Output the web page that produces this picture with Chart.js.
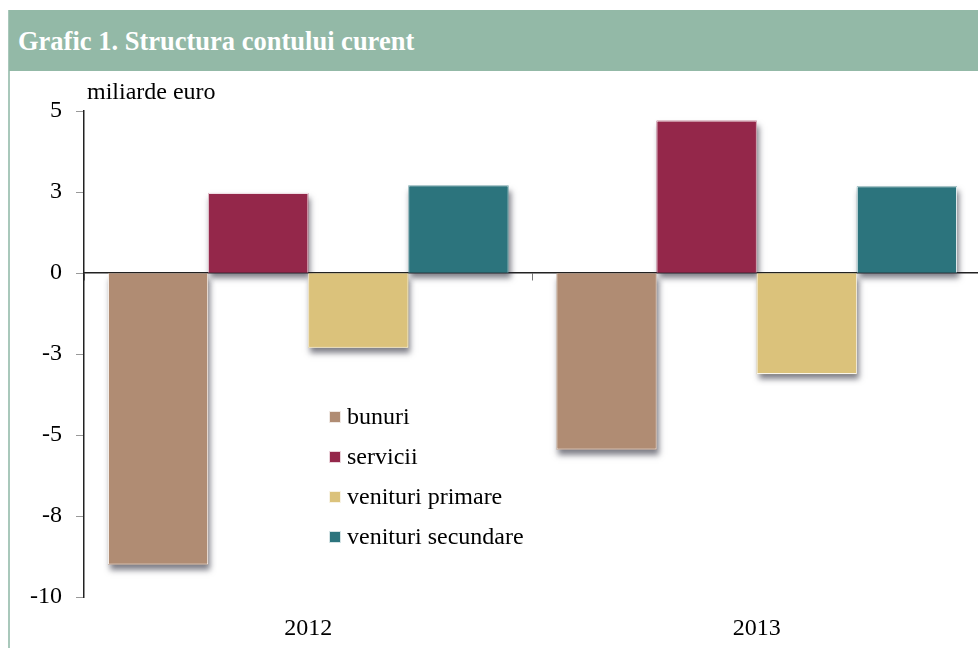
<!DOCTYPE html>
<html>
<head>
<meta charset="utf-8">
<script src="https://cdn.jsdelivr.net/npm/chart.js@4.4.0/dist/chart.umd.min.js"></script>
<style>
  html, body { margin: 0; padding: 0; background: #fff; }
  #wrap { position: relative; width: 978px; height: 648px; overflow: hidden; }
  #frame { position: absolute; left: 8px; top: 10px; width: 2px; height: 638px; background: #a9c8bb; }
  #title {
    position: absolute; left: 9px; top: 10px; width: 969px; height: 61px;
    background: #93b9a7; color: #fff;
    font: bold 26.5px "Liberation Serif", "Times New Roman", serif;
    line-height: 62px; padding-left: 9px; box-sizing: border-box;
  }
  #c { position: absolute; left: 0; top: 0; }
</style>
</head>
<body>
<div id="wrap">
  <div id="frame"></div>
  <div id="title">Grafic 1. Structura contului curent</div>
  <canvas id="c" width="981" height="648"></canvas>
</div>
<script>
const years = ['2012', '2013'];
const bunuri = [-9.0, -5.45];
const servicii = [2.47, 4.70];
const venituriPrimare = [-2.31, -3.12];
const venituriSecundare = [2.70, 2.67];
const seriesNames = ['bunuri', 'servicii', 'venituri primare', 'venituri secundare'];
const tickValues = [5, 2.5, 0, -2.5, -5, -7.5, -10];
const tickLabels = ['5', '3', '0', '-3', '-5', '-8', '-10'];
const unitLabel = 'miliarde euro';

const colors = ['#b08c73', '#94274a', '#dbc27b', '#2c747d'];
const serif = '"Liberation Serif", "Times New Roman", serif';

// drop shadow behind each bar (chart.js clips its own bar fill, so draw it here)
const barShadow = {
    id: 'barShadow',
    beforeDatasetsDraw(chart) {
        const ctx = chart.ctx;
        ctx.save();
        ctx.shadowColor = 'rgba(40,40,55,0.6)';
        ctx.shadowBlur = 6;
        ctx.shadowOffsetX = 2;
        ctx.shadowOffsetY = 5;
        chart.data.datasets.forEach((ds, i) => {
            const meta = chart.getDatasetMeta(i);
            meta.data.forEach(bar => {
                const p = bar.getProps(['x', 'y', 'base', 'width'], true);
                const top = Math.min(p.y, p.base);
                const h = Math.abs(p.base - p.y);
                ctx.fillStyle = ds.backgroundColor;
                ctx.fillRect(p.x - p.width / 2, top, p.width, h);
            });
        });
        ctx.restore();
    }
};

// unit label + legend inside the plot
const extras = {
    id: 'extras',
    afterDraw(chart) {
        const ctx = chart.ctx;
        ctx.save();
        ctx.fillStyle = '#000';
        ctx.font = '24px ' + serif;
        ctx.textBaseline = 'middle';
        ctx.textAlign = 'left';
        ctx.fillText(unitLabel, 87, 93);

        const x = 329, y0 = 417, step = 40;
        chart.data.datasets.forEach((ds, i) => {
            const y = y0 + i * step;
            ctx.fillStyle = ds.backgroundColor;
            ctx.fillRect(x, y - 6, 12, 12);
            ctx.strokeStyle = 'rgba(255,255,255,0.8)';
            ctx.lineWidth = 1;
            ctx.strokeRect(x + 0.5, y - 5.5, 11, 11);
            ctx.fillStyle = '#000';
            ctx.fillText(ds.label, x + 18, y + 1);
        });
        ctx.restore();
    }
};

const seriesData = [bunuri, servicii, venituriPrimare, venituriSecundare];

new Chart(document.getElementById('c'), {
    type: 'bar',
    data: {
        labels: years,
        datasets: seriesNames.map((name, i) => ({
            label: name,
            data: seriesData[i],
            backgroundColor: colors[i],
            borderColor: 'rgba(255,255,255,0.85)',
            borderWidth: 1,
            categoryPercentage: 0.893,
            barPercentage: 1.0,
            xAxisID: 'x'
        }))
    },
    options: {
        responsive: false,
        animation: false,
        layout: { padding: { top: 111, right: 0, left: 0, bottom: 0 } },
        plugins: {
            legend: { display: false },
            tooltip: { enabled: false }
        },
        scales: {
            x: {
                position: 'bottom',
                border: { display: false },
                grid: { display: false, drawTicks: false },
                ticks: {
                    color: '#000',
                    font: { family: serif, size: 24 },
                    padding: 17
                },
                afterFit(scale) { scale.height = 51; }
            },
            x2: {
                type: 'category',
                labels: years,
                position: { y: 0 },
                z: 1,
                offset: true,
                border: { display: true, color: '#222', width: 1.5 },
                grid: {
                    display: true,
                    offset: true,
                    drawOnChartArea: false,
                    drawTicks: true,
                    tickLength: 7,
                    color: '#777'
                },
                ticks: { display: true, callback: () => '' }
            },
            y: {
                min: -10,
                max: 5,
                afterBuildTicks(scale) {
                    scale.ticks = tickValues.map(v => ({ value: v }));
                },
                border: { display: true, color: '#222', width: 1.5 },
                grid: {
                    drawOnChartArea: false,
                    drawTicks: true,
                    tickLength: 8,
                    color: '#999'
                },
                ticks: {
                    color: '#000',
                    font: { family: serif, size: 24 },
                    padding: 14,
                    callback(value) {
                        const i = tickValues.indexOf(value);
                        return i >= 0 ? tickLabels[i] : '';
                    }
                },
                afterFit(scale) { scale.width = 84; }
            }
        }
    },
    plugins: [barShadow, extras]
});
</script>
</body>
</html>
